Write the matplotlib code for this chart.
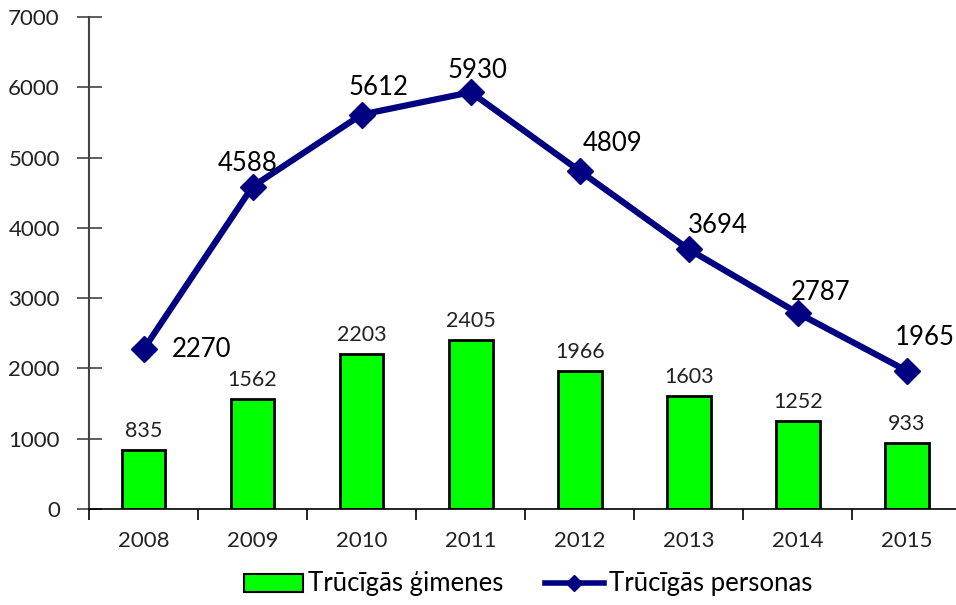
import matplotlib.pyplot as plt
from matplotlib.lines import Line2D
from matplotlib.patches import Patch

years = ['2008', '2009', '2010', '2011', '2012', '2013', '2014', '2015']
families = [835, 1562, 2203, 2405, 1966, 1603, 1252, 933]
persons = [2270, 4588, 5612, 5930, 4809, 3694, 2787, 1965]

# offsets (pixels) of the person labels from their markers
person_offsets = [(58, 0), (-5, 23), (17, 27), (7, 22), (33, 27), (29, 24), (23, 21), (18, 33)]

plt.rcParams['font.family'] = ['Lato', 'DejaVu Sans']

fig = plt.figure(figsize=(9.56, 6.05), dpi=100)
ax = fig.add_axes([89 / 956, 1 - 509 / 605, 867 / 956, 492 / 605])

x = list(range(len(years)))
ax.bar(x, families, width=0.4, color='#00ff00', edgecolor='black', linewidth=2, zorder=2)
ax.plot(x, persons, color='#000080', linewidth=4.5, marker='D', markersize=13, zorder=3)

for i, v in enumerate(families):
    ax.annotate(str(v), (i, v), xytext=(0, 9), textcoords='offset pixels',
                ha='center', va='bottom', fontsize=15.5, color='#222222')
for i, v in enumerate(persons):
    dx, dy = person_offsets[i]
    ax.annotate(str(v), (i, v), xytext=(dx, dy), textcoords='offset pixels',
                ha='center', va='center', fontsize=18.5, color='black')

ax.set_xlim(-0.5, 7.45)
ax.set_ylim(0, 7000)
ax.set_yticks(range(0, 7001, 1000))
ax.set_xticks(x)
ax.set_xticklabels(years)
ax.set_xticks([i - 0.5 for i in range(8)], minor=True)

for s in ['top', 'right']:
    ax.spines[s].set_visible(False)
ax.spines['left'].set_color('#444444')
ax.spines['left'].set_linewidth(1.5)
ax.spines['bottom'].set_linewidth(1.2)
ax.tick_params(axis='y', direction='inout', length=18, width=1.2, labelsize=16,
               colors='#444444', labelcolor='#222222', pad=12)
ax.tick_params(axis='x', which='major', length=0, labelsize=16, pad=16, labelcolor='#222222')
ax.tick_params(axis='x', which='minor', direction='out', length=8, width=1.2)

handles = [Patch(facecolor='#00ff00', edgecolor='black', linewidth=1.5),
           Line2D([0], [0], color='#000080', linewidth=4, marker='D', markersize=8)]
fig.legend(handles, ['Trūcīgās ģimenes', 'Trūcīgās personas'], loc='center',
           bbox_to_anchor=(528 / 956, 1 - 584 / 605), ncol=2, frameon=False,
           fontsize=18.5, handlelength=2.3, handletextpad=0.2, columnspacing=1.6)

fig.savefig('out.png', dpi=100)
